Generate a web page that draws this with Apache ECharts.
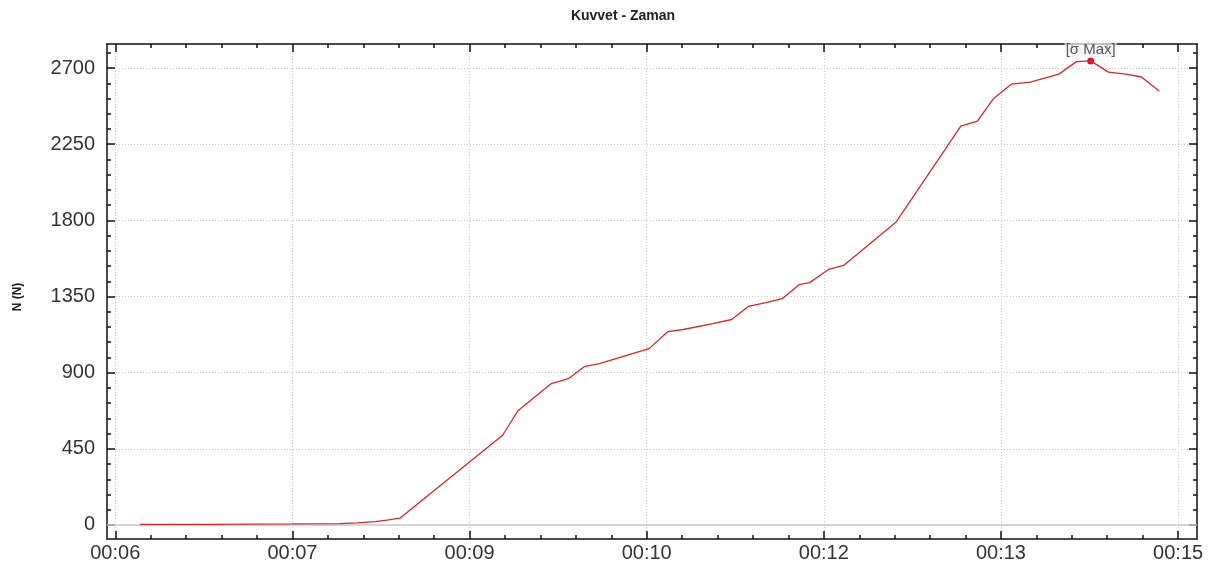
<!DOCTYPE html>
<html><head><meta charset="utf-8">
<script src="https://cdn.jsdelivr.net/npm/echarts@6/dist/echarts.min.js"></script>
<style>html,body{margin:0;padding:0;background:#fff}#c{width:1216px;height:573px}</style>
</head><body><div id="c"></div>
<script>
// time in seconds
const timeSec = [6.21, 6.8, 7.5, 7.9, 8.05, 8.2, 8.3, 8.41, 9.28, 9.41, 9.69, 9.76, 9.84, 9.97, 10.10, 10.38, 10.52, 10.68, 10.81, 11.06, 11.22, 11.36, 11.51, 11.65, 11.79, 11.88, 12.04, 12.17, 12.61, 13.16, 13.30, 13.44, 13.59, 13.75, 13.99, 14.14, 14.26, 14.41, 14.56, 14.69, 14.84];
const forceN  = [3, 4, 6, 8, 12, 20, 28, 40, 530, 675, 835, 848, 866, 935, 953, 1012, 1042, 1143, 1155, 1190, 1214, 1291, 1314, 1338, 1420, 1432, 1510, 1534, 1788, 2357, 2386, 2522, 2605, 2617, 2664, 2738, 2742, 2676, 2664, 2647, 2564];
const xTickValues = [6, 7.5, 9, 10.5, 12, 13.5, 15];
const xTickLabels = ['00:06', '00:07', '00:09', '00:10', '00:12', '00:13', '00:15'];
const yTickValues = [0, 450, 900, 1350, 1800, 2250, 2700];
const titleText = 'Kuvvet - Zaman';
const yName = 'N (N)';
const maxLabel = '[σ Max]';

const xMin = 5.93, xMax = 15.16, yMin = -83, yMax = 2842;
const xMinor = [];
for (let i = 0; i < xTickValues.length - 1; i++) { const a = xTickValues[i], b = xTickValues[i+1]; for (let k = 1; k < 5; k++) xMinor.push(+(a + (b-a)*k/5).toFixed(4)); }
const yMinor = [];
for (let i = 0; i < yTickValues.length; i++) { const a = yTickValues[i], d = 450; for (let k = 1; k < 5; k++) { const v = a + d*k/5; if (v < yMax) yMinor.push(v); } }

const data = timeSec.map((t, i) => [t, forceN[i]]);
const font = 'Liberation Sans, Arial, sans-serif';
const lineBlack = { show: true, onZero: false, lineStyle: { color: '#111', width: 1.5 } };
const noLine = { show: false, onZero: false };

function xAx(pos, values, len, showLine, labels, split) {
  return {
    type: 'value', position: pos, min: xMin, max: xMax,
    axisLine: showLine ? lineBlack : noLine,
    axisTick: { show: true, inside: true, length: len, customValues: values, lineStyle: { color: '#111', width: 1.5 } },
    axisLabel: labels ? { show: true, customValues: values, color: '#333', fontSize: 20, fontFamily: font, margin: 4,
      formatter: v => { const i = xTickValues.findIndex(t => Math.abs(t - v) < 1e-6); return i >= 0 ? xTickLabels[i] : ''; } } : { show: false },
    splitLine: split ? { show: true, lineStyle: { color: '#c8c8c8', type: [1, 2], width: 1 } } : { show: false }
  };
}
function yAx(pos, values, len, showLine, labels, split) {
  return {
    type: 'value', position: pos, min: yMin, max: yMax,
    axisLine: showLine ? lineBlack : noLine,
    axisTick: { show: true, inside: true, length: len, customValues: values, lineStyle: { color: '#111', width: 1.5 } },
    axisLabel: labels ? { show: true, customValues: values, color: '#333', fontSize: 20, fontFamily: font, margin: 12, formatter: v => String(v) } : { show: false },
    splitLine: split ? { show: true, lineStyle: { color: '#c8c8c8', type: [1, 2], width: 1 } } : { show: false }
  };
}

const chart = echarts.init(document.getElementById('c'), null, { renderer: 'canvas' });
chart.setOption({
  animation: false,
  backgroundColor: '#fff',
  title: { text: titleText, left: 618, textAlign: 'center', top: 4, textStyle: { fontSize: 14, fontWeight: 'bold', color: '#222', fontFamily: font } },
  grid: { left: 107, right: 19, top: 44, bottom: 34, containLabel: false },
  xAxis: [
    xAx('bottom', xTickValues, 8, true, true, true),
    xAx('bottom', xMinor, 4, false, false, false),
    xAx('top', xTickValues, 8, true, false, false),
    xAx('top', xMinor, 4, false, false, false)
  ],
  yAxis: [
    yAx('left', yTickValues, 8, true, true, true),
    yAx('left', yMinor, 4, false, false, false),
    yAx('right', yTickValues, 8, true, false, false),
    yAx('right', yMinor, 4, false, false, false)
  ],
  graphic: [{ type: 'text', rotation: Math.PI / 2, x: 18, y: 297, style: { text: yName, fill: '#222', font: 'bold 12px ' + font, align: 'center', verticalAlign: 'middle' } }],
  series: [{
    type: 'line', xAxisIndex: 0, yAxisIndex: 0, data: data, showSymbol: false,
    lineStyle: { color: '#cf2a2a', width: 1.3 },
    markLine: { silent: true, symbol: 'none', label: { show: false }, lineStyle: { color: '#c8c8c8', type: 'solid', width: 1.5 }, data: [{ yAxis: 0 }] },
    markPoint: {
      symbol: 'circle', symbolSize: 7, itemStyle: { color: '#e0102a' },
      label: { show: true, position: 'top', distance: 0, formatter: maxLabel, color: '#555', fontSize: 15, fontFamily: font, backgroundColor: 'rgba(242,242,242,0.7)', padding: [0, 1] },
      data: [{ type: 'max' }]
    },
    z: 5
  }]
});
</script></body></html>
